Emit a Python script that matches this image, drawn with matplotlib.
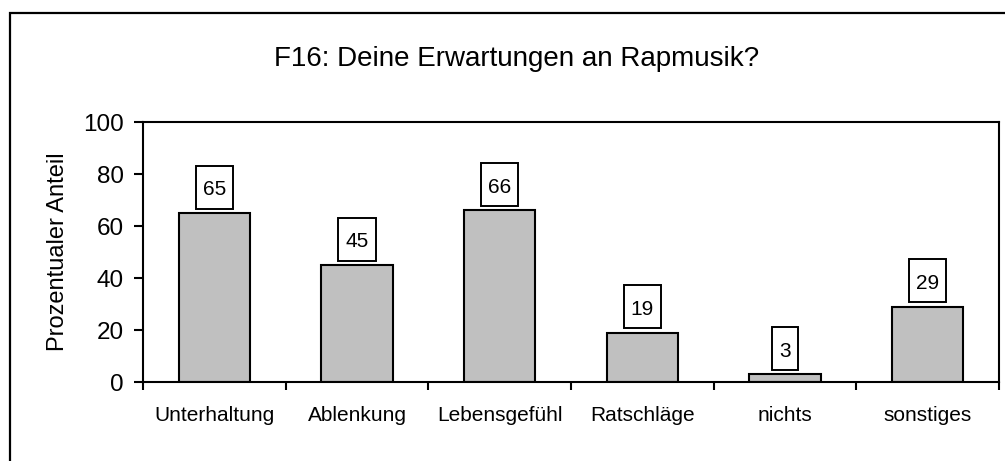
import matplotlib
matplotlib.use("Agg")
import matplotlib.pyplot as plt
from matplotlib.patches import Rectangle
from matplotlib.path import Path

plt.rcParams['font.family'] = ['Liberation Sans', 'DejaVu Sans']

# ---- data ----
categories = ["Unterhaltung", "Ablenkung", "Lebensgefühl", "Ratschläge", "nichts", "sonstiges"]
values = [65, 45, 66, 19, 3, 29]
yticks = [0, 20, 40, 60, 80, 100]
title = "F16: Deine Erwartungen an Rapmusik?"
ylabel = "Prozentualer Anteil"

W, H, DPI = 1005, 461, 100
fig = plt.figure(figsize=(W / DPI, H / DPI), dpi=DPI)
ax = fig.add_axes([143 / W, 1 - 382 / H, (999 - 143) / W, (382 - 122) / H])

# outer chart border (extends past right/bottom edge)
fig.add_artist(Rectangle((10 / W, -0.2), 1.5, 1.2 - 13 / H, transform=fig.transFigure,
                         fill=False, edgecolor='black', linewidth=1.6, clip_on=False))

x = list(range(len(categories)))
ax.bar(x, values, width=0.5, color='#C0C0C0', edgecolor='black', linewidth=1.5, zorder=2)

ax.set_xlim(-0.5, len(categories) - 0.5)
ax.set_ylim(0, 100)
ax.set_yticks(yticks)
ax.tick_params(axis='y', direction='out', length=6.5, width=1.5, pad=7.5, labelsize=17.5)

# category labels at centres (no tick mark), tick marks at boundaries
ax.set_xticks(x)
ax.set_xticklabels(categories, fontsize=15)
ax.tick_params(axis='x', which='major', length=0, pad=17)
ax.set_xticks([i - 0.5 for i in range(len(categories) + 1)], minor=True)
ax.tick_params(axis='x', which='minor', direction='out', length=6, width=1.5)

for s in ax.spines.values():
    s.set_linewidth(1.5)

fig.text(58 / W, 1 - 252 / H, ylabel, rotation=90, ha='center', va='center', fontsize=17)
fig.text(517 / W, 1 - 66 / H, title, ha='center', va='baseline', fontsize=20)


def label_box(x0, y0, width, height, mutation_size):
    ms = mutation_size
    base = y0 + 0.212 * ms
    padx = 0.34 * ms
    l, r = x0 - padx, x0 + width + padx
    b, t = base - 0.66 * ms, base + 1.40 * ms
    return Path([(l, b), (r, b), (r, t), (l, t), (l, b)],
                [Path.MOVETO, Path.LINETO, Path.LINETO, Path.LINETO, Path.CLOSEPOLY])


for xi, v in zip(x, values):
    ax.annotate(str(v), xy=(xi, v), xytext=(0, 17.7), textcoords='offset pixels',
                ha='center', va='baseline', fontsize=15, zorder=3,
                bbox=dict(boxstyle=label_box, facecolor='white', edgecolor='black', linewidth=1.4))

fig.savefig("out.png", dpi=DPI)
